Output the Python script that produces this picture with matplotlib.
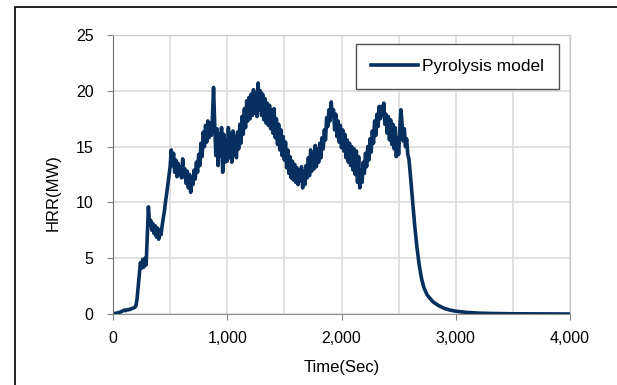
import numpy as np
from matplotlib import pyplot as plt
from matplotlib.patches import Rectangle

# HRR, 10 s steps from 0 to 2590 s
hrr_fire = [
    0.0, 0.02, 0.05, 0.08, 0.1, 0.12, 0.15, 0.2, 0.25, 0.3,
    0.35, 0.3, 0.35, 0.4, 0.38, 0.42, 0.45, 0.5, 0.55, 0.6,
    0.7, 1.3, 2.4, 3.6, 4.6, 4.1, 4.9, 4.2, 5.0, 4.4,
    7.0, 9.6, 8.0, 8.4, 7.5, 8.1, 7.2, 7.9, 6.9, 7.7,
    6.7, 7.5, 7.1, 7.9, 8.6, 9.2, 10.1, 10.8, 11.6, 12.4,
    13.2, 14.7, 13.3, 14.4, 12.7, 13.8, 12.3, 13.5, 12.5, 13.2,
    12.2, 13.9, 12.3, 13.0, 11.7, 12.8, 11.3, 12.5, 10.9, 12.3,
    11.6, 12.9, 12.1, 13.6, 12.7, 14.3, 13.3, 15.3, 14.1, 16.3,
    15.0, 16.9, 15.4, 17.3, 15.8, 17.1, 16.0, 17.5, 20.3, 17.0,
    14.2, 16.6, 13.3, 16.1, 14.2, 16.7, 12.7, 16.1, 13.6, 15.6,
    13.7, 16.7, 14.0, 16.2, 13.6, 16.4, 14.3, 15.9, 14.0, 16.3,
    14.8, 17.0, 15.3, 17.7, 16.1, 18.4, 16.7, 19.1, 17.3, 19.4,
    17.5, 19.7, 17.8, 20.1, 18.0, 19.8, 17.7, 20.7, 18.3, 20.0,
    17.8, 19.7, 17.4, 19.3, 17.1, 18.9, 16.9, 18.7, 16.6, 18.3,
    16.2, 18.4, 15.8, 17.5, 15.2, 17.0, 14.7, 16.5, 14.2, 15.9,
    13.8, 15.4, 13.1, 14.7, 12.6, 14.1, 12.2, 13.7, 12.0, 13.4,
    11.8, 13.1, 11.6, 12.9, 11.9, 13.2, 11.3, 12.8, 11.6, 13.3,
    12.2, 14.0, 12.4, 14.7, 12.8, 14.3, 13.0, 15.1, 13.2, 14.8,
    13.6, 15.3, 14.0, 15.8, 14.8, 16.5, 15.6, 17.6, 16.8, 18.3,
    17.3, 19.0, 17.8, 18.3, 16.5, 17.9, 15.9, 17.3, 15.4, 16.9,
    14.9, 16.5, 14.6, 16.1, 14.0, 15.6, 13.6, 15.3, 13.3, 15.0,
    12.9, 14.8, 12.5, 14.6, 11.8, 14.1, 11.3, 12.9, 11.8, 13.6,
    12.6, 14.4, 13.2, 15.0, 13.8, 15.7, 14.5, 16.4, 15.3, 17.3,
    16.0, 17.9, 16.8, 18.6, 17.5, 18.6, 17.8, 18.9, 17.0, 17.9,
    16.2, 17.7, 15.6, 17.4, 15.2, 17.0, 14.8, 16.7, 14.1, 15.8,
    14.3, 16.6, 18.3, 17.1, 15.5, 16.6, 15.0, 15.7, 14.3, 13.9,
]
time_fire = list(np.arange(0, 2600, 10))

# decay part after the fire
time_decay = [2600, 2620, 2640, 2660, 2680, 2700, 2720, 2750, 2800, 2850,
              2900, 2950, 3000, 3100, 3200, 3300, 3500, 3700, 4000]
hrr_decay = [12.8, 10.4, 8.0, 6.0, 4.4, 3.2, 2.4, 1.7, 1.1, 0.75,
             0.5, 0.35, 0.25, 0.14, 0.08, 0.05, 0.02, 0.01, 0.0]

time = time_fire + time_decay
hrr = hrr_fire + hrr_decay

plt.rcParams['font.family'] = ['Liberation Sans', 'DejaVu Sans']

fig = plt.figure(figsize=(6.17, 3.85), dpi=100)
ax = fig.add_axes([113 / 617, 71 / 385, 457 / 617, 279 / 385])

# outer frame (only left and top edges visible)
fig.add_artist(Rectangle((15 / 617, -0.1), 1.2, 1.1 - 7 / 385, transform=fig.transFigure,
                         fill=False, edgecolor='black', lw=1.2))

ax.plot(time, hrr, color='#06305f', lw=2.6, label='Pyrolysis model')

ax.set_xlim(0, 4000)
ax.set_ylim(0, 25)
ax.set_xticks([0, 1000, 2000, 3000, 4000])
ax.set_xticklabels(['0', '1,000', '2,000', '3,000', '4,000'])
ax.set_xticks([500, 1500, 2500, 3500], minor=True)
ax.set_yticks([0, 5, 10, 15, 20, 25])
ax.grid(True, which='both', color='#dcdcdc', lw=1.2)
ax.set_axisbelow(True)

ax.tick_params(axis='both', which='major', direction='out', length=4, color='#808080',
               labelsize=11.5, labelcolor='black')
ax.tick_params(axis='y', pad=10)
ax.tick_params(axis='x', pad=8)
ax.tick_params(which='minor', length=0)

ax.spines['left'].set_color('#707070')
ax.spines['bottom'].set_color('#909090')
ax.spines['top'].set_color('#c8c8c8')
ax.spines['right'].set_color('#c8c8c8')

ax.set_xlabel('Time(Sec)', fontsize=12)
ax.set_ylabel('HRR(MW)', fontsize=12)
ax.xaxis.set_label_coords(0.5, -0.165)
ax.yaxis.set_label_coords(-0.115, 0.437)

leg = ax.legend(loc='upper right', bbox_to_anchor=(0.976, 0.968), fontsize=12.5,
                fancybox=False, framealpha=1, edgecolor='#505050',
                handlelength=2.7, handletextpad=0.25, borderpad=0.85,
                borderaxespad=0)
leg.get_frame().set_linewidth(1)

fig.savefig('out.png', dpi=100)
